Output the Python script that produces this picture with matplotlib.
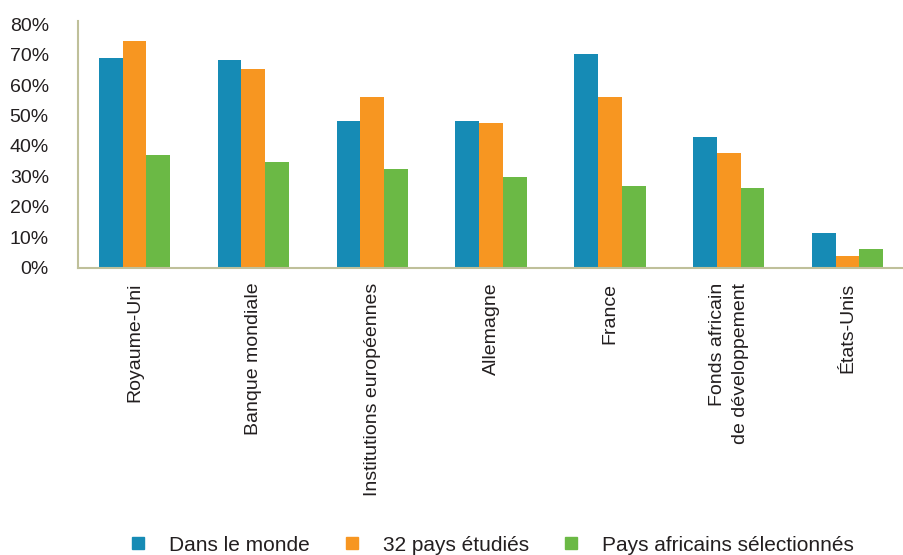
import matplotlib
matplotlib.use("Agg")
import matplotlib.pyplot as plt
from matplotlib.lines import Line2D
import numpy as np


categories = [
    "Royaume-Uni",
    "Banque mondiale",
    "Institutions européennes",
    "Allemagne",
    "France",
    "Fonds africain\nde développement",
    "États-Unis",
]
series_names = ["Dans le monde", "32 pays étudiés", "Pays africains sélectionnés"]
monde = [0.689, 0.683, 0.482, 0.482, 0.702, 0.429, 0.113]
pays32 = [0.745, 0.653, 0.561, 0.475, 0.561, 0.377, 0.038]
afrique = [0.370, 0.347, 0.324, 0.298, 0.268, 0.262, 0.061]
yticks = [0, 0.1, 0.2, 0.3, 0.4, 0.5, 0.6, 0.7, 0.8]
ytick_labels = ["0%", "10%", "20%", "30%", "40%", "50%", "60%", "70%", "80%"]

couleurs = ["#168BB5", "#F79621", "#6BB945"]
axe_couleur = "#BFC09A"
texte_couleur = "#231F20"

plt.rcParams["font.family"] = ["Liberation Sans", "DejaVu Sans"]

fig = plt.figure(figsize=(9.04, 5.55), dpi=100)
ax = fig.add_axes([0.0863, 0.518, 0.9137, 0.438])

x = np.arange(len(categories))
w = 0.2
for i, vals in enumerate([monde, pays32, afrique]):
    ax.bar(x + (i - 1) * w, vals, width=w, color=couleurs[i], zorder=2)

ax.set_xlim(-0.475, len(categories) - 0.525)
ax.set_ylim(0, 0.8)
ax.set_yticks(yticks)
ax.set_yticklabels(ytick_labels)
ax.set_xticks(x)
ax.set_xticklabels(categories, rotation=90, ha="center", va="top",
                   multialignment="right", linespacing=1.45)

for s in ["top", "right"]:
    ax.spines[s].set_visible(False)
for s in ["left", "bottom"]:
    ax.spines[s].set_color(axe_couleur)
    ax.spines[s].set_linewidth(1.5)
ax.spines["left"].set_bounds(0, 0.81)
ax.tick_params(axis="both", length=0, labelsize=14, colors=texte_couleur)
ax.tick_params(axis="x", pad=11)
ax.tick_params(axis="y", pad=21)

handles = [Line2D([], [], marker="s", linestyle="", markersize=8,
                  markerfacecolor=c, markeredgecolor=c) for c in couleurs]
fig.legend(handles, series_names, loc="center", bbox_to_anchor=(0.543, 0.018),
           ncol=3, frameon=False, fontsize=15, handlelength=1.0,
           handletextpad=1.0, columnspacing=1.5, labelcolor=texte_couleur,
           borderpad=0)

fig.savefig("out.png", dpi=100)
